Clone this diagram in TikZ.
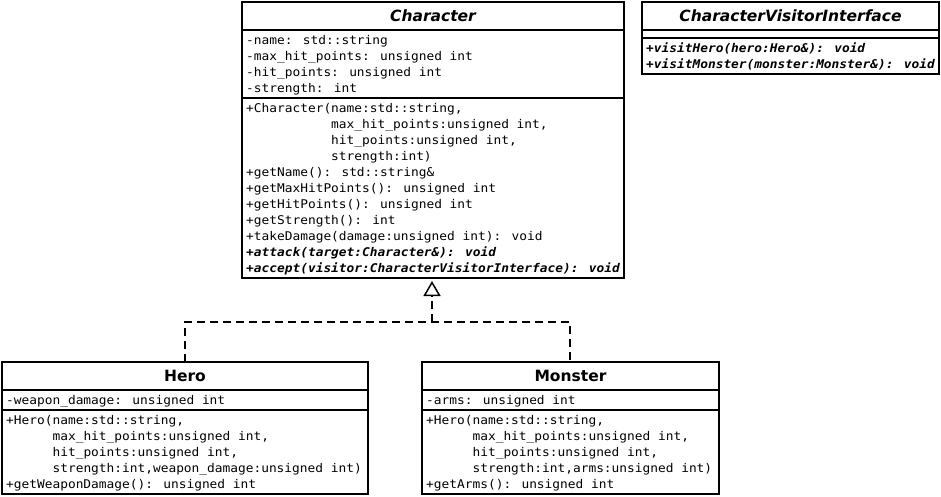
\documentclass[tikz,border=0pt]{standalone}
\usepackage{fontspec}
\setmainfont{DejaVu Sans}
\newfontfamily\umono[FakeStretch=1.07]{DejaVu Sans Mono}
\usetikzlibrary{arrows.meta}
\tikzset{
  classbox/.style={draw, line width=1.6pt, inner sep=0pt, outer sep=0pt, fill=white},
  sepline/.style={line width=1.6pt},
  ttl/.style={anchor=base, inner sep=0pt, font=\fontsize{15.5}{16}\selectfont\bfseries},
  ttlit/.style={ttl, font=\fontsize{15.5}{16}\selectfont\bfseries\itshape},
  mem/.style={anchor=base west, inner sep=0pt, font=\umono\fontsize{12}{16}\selectfont},
  memab/.style={mem, font=\umono\fontsize{12}{16}\selectfont\bfseries\itshape},
  dashline/.style={line width=1.6pt, dash pattern=on 8pt off 5pt},
}
\begin{document}
\begin{tikzpicture}[x=1pt,y=-1pt]
\useasboundingbox (0,0) rectangle (941,496);

% ---------- Character ----------
\node[classbox, minimum width=382pt, minimum height=276pt] (char) at (433,140) {};
\draw[sepline] (char.west |- 0,30) -- (char.east |- 0,30);
\draw[sepline] (char.west |- 0,98) -- (char.east |- 0,98);
\node[ttlit] (charT) at (433,21) {Character};
\node[mem] (ca1) at (246,44) {-name: std::string};
\node[mem] (ca2) at (246,60) {-max\_hit\_points: unsigned int};
\node[mem] (ca3) at (246,76) {-hit\_points: unsigned int};
\node[mem] (ca4) at (246,92) {-strength: int};
\node[mem] (cm1) at (246,112) {+Character(name:std::string,};
\node[mem] (cm2) at (246,128) {\phantom{+Character(}max\_hit\_points:unsigned int,};
\node[mem] (cm3) at (246,144) {\phantom{+Character(}hit\_points:unsigned int,};
\node[mem] (cm4) at (246,160) {\phantom{+Character(}strength:int)};
\node[mem] (cm5) at (246,176) {+getName(): std::string\&};
\node[mem] (cm6) at (246,192) {+getMaxHitPoints(): unsigned int};
\node[mem] (cm7) at (246,208) {+getHitPoints(): unsigned int};
\node[mem] (cm8) at (246,224) {+getStrength(): int};
\node[mem] (cm9) at (246,240) {+takeDamage(damage:unsigned int): void};
\node[memab] (cm10) at (246,256) {+attack(target:Character\&): void};
\node[memab] (cm11) at (246,272) {+accept(visitor:CharacterVisitorInterface): void};

% ---------- CharacterVisitorInterface ----------
\node[classbox, minimum width=297pt, minimum height=72pt] (cvi) at (790.5,38) {};
\draw[sepline] (cvi.west |- 0,30) -- (cvi.east |- 0,30);
\draw[sepline] (cvi.west |- 0,38) -- (cvi.east |- 0,38);
\node[ttlit] (cviT) at (790.5,21) {CharacterVisitorInterface};
\node[memab] (vm1) at (646,52) {+visitHero(hero:Hero\&): void};
\node[memab] (vm2) at (646,68) {+visitMonster(monster:Monster\&): void};

% ---------- Hero ----------
\node[classbox, minimum width=366pt, minimum height=132pt] (hero) at (185,428) {};
\draw[sepline] (hero.west |- 0,390) -- (hero.east |- 0,390);
\draw[sepline] (hero.west |- 0,410) -- (hero.east |- 0,410);
\node[ttl] (heroT) at (185,381) {Hero};
\node[mem] (ha1) at (6,404) {-weapon\_damage: unsigned int};
\node[mem] (hm1) at (6,424) {+Hero(name:std::string,};
\node[mem] (hm2) at (6,440) {\phantom{+Hero(}max\_hit\_points:unsigned int,};
\node[mem] (hm3) at (6,456) {\phantom{+Hero(}hit\_points:unsigned int,};
\node[mem] (hm4) at (6,472) {\phantom{+Hero(}strength:int,weapon\_damage:unsigned int)};
\node[mem] (hm5) at (6,488) {+getWeaponDamage(): unsigned int};

% ---------- Monster ----------
\node[classbox, minimum width=297pt, minimum height=132pt] (mon) at (570.5,428) {};
\draw[sepline] (mon.west |- 0,390) -- (mon.east |- 0,390);
\draw[sepline] (mon.west |- 0,410) -- (mon.east |- 0,410);
\node[ttl] (monT) at (570.5,381) {Monster};
\node[mem] (ma1) at (426,404) {-arms: unsigned int};
\node[mem] (mm1) at (426,424) {+Hero(name:std::string,};
\node[mem] (mm2) at (426,440) {\phantom{+Hero(}max\_hit\_points:unsigned int,};
\node[mem] (mm3) at (426,456) {\phantom{+Hero(}hit\_points:unsigned int,};
\node[mem] (mm4) at (426,472) {\phantom{+Hero(}strength:int,arms:unsigned int)};
\node[mem] (mm5) at (426,488) {+getArms(): unsigned int};

% ---------- Realization connectors ----------
\coordinate (jn) at (432,322);
\draw[dashline] (hero.north) |- (jn) -| ([xshift=-0.5pt]mon.north);
\draw[dashline, -{Triangle[open, length=15pt, width=17pt, line width=1.5pt]}] (jn) -- ([xshift=-1pt, yshift=-3pt]char.south);
\end{tikzpicture}
\end{document}
